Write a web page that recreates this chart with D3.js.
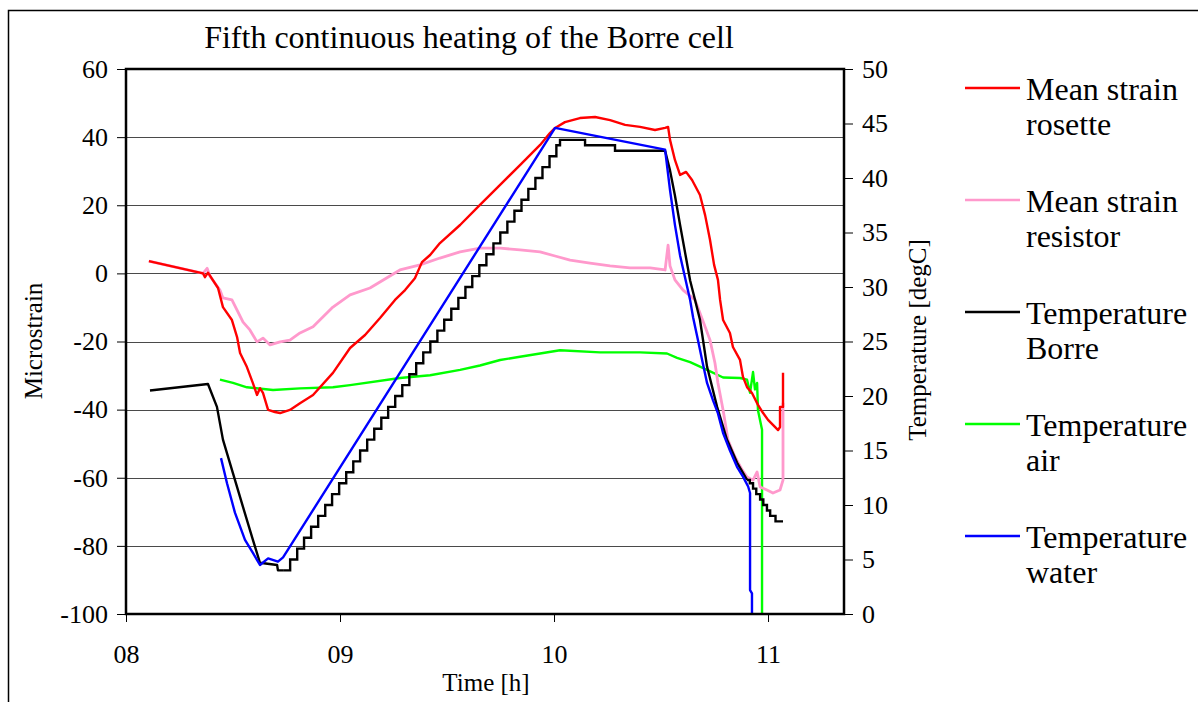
<!DOCTYPE html>
<html>
<head>
<meta charset="utf-8">
<script src="https://cdn.jsdelivr.net/npm/d3@7/dist/d3.min.js"></script>
<style>
  html, body { margin: 0; padding: 0; background: #fff; }
  svg { display: block; }
  text { font-family: "Liberation Serif", "Times New Roman", serif; fill: #000; }
</style>
</head>
<body>
<svg id="chart" width="1198" height="702"></svg>
<script>
// ---------------- data ----------------
const chartTitle = "Fifth continuous heating of the Borre cell";
const xTitle = "Time [h]";
const yLeftTitle = "Microstrain";
const yRightTitle = "Temperature [degC]";

const timeTicks = [8, 9, 10, 11];
const timeTickLabels = ["08", "09", "10", "11"];
const strainTicks = [-100, -80, -60, -40, -20, 0, 20, 40, 60];
const tempTicks = [0, 5, 10, 15, 20, 25, 30, 35, 40, 45, 50];

const seriesNames = ["Mean strain rosette", "Mean strain resistor", "Temperature Borre", "Temperature air", "Temperature water"];
const legendLines = [["Mean strain", "rosette"], ["Mean strain", "resistor"], ["Temperature", "Borre"], ["Temperature", "air"], ["Temperature", "water"]];

// [time h, microstrain]
const strainRosette = [
  [8.107, 3.6], [8.360, 0.0], [8.369, -1.1], [8.383, 0.2], [8.430, -4.3], [8.453, -9.9], [8.495, -13.7],
  [8.519, -18.7], [8.533, -23.4], [8.565, -27.5], [8.593, -32.2], [8.612, -35.7], [8.626, -33.7],
  [8.640, -35.1], [8.664, -40.1], [8.696, -40.7], [8.720, -41.0], [8.766, -40.1], [8.813, -38.1],
  [8.874, -35.7], [8.967, -29.2], [9.047, -21.9], [9.117, -18.1], [9.187, -13.1], [9.257, -7.8],
  [9.304, -4.9], [9.350, -1.4], [9.383, 3.3], [9.421, 5.4], [9.467, 8.9], [9.561, 14.2], [9.654, 20.1],
  [9.748, 26.0], [9.841, 31.8], [9.935, 37.7], [9.981, 41.2], [10.005, 42.7], [10.051, 44.4],
  [10.121, 45.6], [10.192, 45.9], [10.262, 45.0], [10.332, 43.6], [10.402, 43.0], [10.472, 42.1],
  [10.519, 42.7], [10.533, 43.0], [10.542, 39.2], [10.565, 33.3], [10.589, 28.9], [10.617, 29.8],
  [10.645, 27.4], [10.682, 23.0], [10.706, 17.1], [10.729, 9.8], [10.748, 2.5], [10.766, -1.9],
  [10.776, -7.8], [10.790, -13.7], [10.822, -17.5], [10.836, -21.6], [10.869, -25.4], [10.883, -30.4],
  [10.902, -33.4], [10.925, -35.1], [10.953, -38.6], [10.977, -41.0], [11.000, -43.0], [11.023, -44.5],
  [11.047, -46.0], [11.056, -45.1], [11.056, -39.2], [11.070, -39.2], [11.070, -29.2]
];

const strainResistor = [
  [8.107, 3.6], [8.360, 0.0], [8.379, 1.5], [8.393, -0.9], [8.407, -2.1], [8.439, -4.9], [8.453, -7.2],
  [8.495, -7.8], [8.519, -10.8], [8.547, -14.3], [8.579, -16.6], [8.612, -20.1], [8.640, -19.0],
  [8.673, -21.0], [8.720, -20.1], [8.766, -19.6], [8.813, -17.5], [8.874, -15.7], [8.967, -9.9],
  [9.047, -6.3], [9.140, -4.3], [9.280, 1.0], [9.374, 2.5], [9.467, 4.5], [9.561, 6.3], [9.654, 7.4],
  [9.748, 7.4], [9.841, 6.9], [9.935, 6.3], [10.005, 5.1], [10.075, 3.9], [10.168, 3.0], [10.262, 2.2],
  [10.355, 1.6], [10.449, 1.6], [10.519, 1.0], [10.533, 8.3], [10.542, 2.2], [10.565, -1.9],
  [10.603, -4.9], [10.659, -7.8], [10.706, -15.7], [10.729, -19.6], [10.752, -26.3], [10.766, -32.2],
  [10.790, -40.1], [10.813, -48.9], [10.846, -53.9], [10.879, -57.7], [10.902, -59.8], [10.930, -60.7],
  [10.949, -58.3], [10.963, -62.7], [10.995, -63.6], [11.023, -64.5], [11.056, -63.6], [11.070, -60.7],
  [11.070, -38.0]
];

// [time h, degC] -- Borre cell temperature (logged in 0.5 / 1 degC steps while heating)
const borreCooling = [
  [8.112, 20.5], [8.383, 21.1], [8.425, 19.0], [8.453, 16.0], [8.500, 12.9], [8.547, 9.8],
  [8.593, 6.8], [8.626, 4.7], [8.706, 4.5], [8.710, 4.0], [8.734, 4.0]
];
const borreHeating = [
  [8.734, 4], [8.767, 5], [8.800, 6], [8.832, 7], [8.865, 8], [8.898, 9], [8.931, 10], [8.963, 11],
  [8.996, 12], [9.029, 13], [9.062, 14], [9.094, 15], [9.127, 16], [9.160, 17], [9.193, 18], [9.225, 19],
  [9.258, 20], [9.291, 21], [9.324, 22], [9.356, 23], [9.389, 24], [9.422, 25], [9.455, 26], [9.487, 27],
  [9.520, 28], [9.553, 29], [9.586, 30], [9.618, 31], [9.651, 32], [9.684, 33], [9.717, 34], [9.749, 35],
  [9.782, 36], [9.815, 37], [9.848, 38], [9.880, 39], [9.913, 40], [9.946, 41], [9.979, 42], [10.011, 43],
  [10.028, 43.5], [10.145, 43.0], [10.285, 42.5], [10.519, 42.5]
];
const borreFalling = [
  [10.519, 42.5], [10.542, 40.7], [10.565, 38.4], [10.589, 35.7], [10.636, 30.6], [10.659, 28.8],
  [10.682, 27.0], [10.715, 22.7], [10.762, 19.0], [10.808, 16.0], [10.855, 13.9], [10.902, 12.3]
];
const borreTail = [
  [10.902, 12.3], [10.915, 12.0], [10.930, 11.5], [10.945, 11.0], [10.963, 10.5], [10.978, 10.0],
  [10.995, 9.5], [11.010, 9.0], [11.035, 8.5], [11.070, 8.5]
];

const tempAir = [
  [8.439, 21.5], [8.500, 21.2], [8.565, 20.8], [8.687, 20.55], [8.813, 20.7], [8.967, 20.8],
  [9.047, 21.0], [9.280, 21.65], [9.421, 21.9], [9.561, 22.4], [9.654, 22.8], [9.748, 23.3],
  [9.841, 23.6], [9.935, 23.9], [10.028, 24.2], [10.215, 24.0], [10.402, 24.0], [10.528, 23.9],
  [10.575, 23.5], [10.636, 23.1], [10.715, 22.4], [10.790, 21.7], [10.869, 21.65], [10.902, 21.5],
  [10.916, 20.3], [10.930, 22.2], [10.939, 20.6], [10.949, 21.2], [10.953, 18.7], [10.972, 16.9],
  [10.972, 0.0]
];

const tempWater = [
  [8.444, 14.3], [8.472, 12.0], [8.509, 9.3], [8.556, 6.8], [8.593, 5.6], [8.626, 4.5], [8.664, 5.1],
  [8.710, 4.8], [8.734, 5.2], [10.005, 44.6], [10.519, 42.6], [10.542, 38.9], [10.565, 35.7],
  [10.589, 32.9], [10.636, 28.8], [10.650, 27.2], [10.673, 25.1], [10.692, 23.3], [10.715, 21.2],
  [10.743, 19.6], [10.766, 18.4], [10.790, 16.6], [10.822, 15.0], [10.855, 13.5], [10.883, 12.6],
  [10.907, 11.7], [10.916, 11.1], [10.916, 2.2], [10.925, 1.9], [10.925, 0.0]
];

const seriesColors = ["#ff0000", "#ff99cc", "#000000", "#00ff00", "#0000ff"];

// ---------------- layout ----------------
const FONT = '"Liberation Serif", "Times New Roman", serif';
const svg = d3.select("#chart");
const plot = { left: 126, right: 844, top: 69, bottom: 614 };

const x = d3.scaleLinear().domain([8, 11.355]).range([plot.left, plot.right]);
const yL = d3.scaleLinear().domain([-100, 60]).range([plot.bottom, plot.top]);
const yR = d3.scaleLinear().domain([0, 50]).range([plot.bottom, plot.top]);

// outer border
svg.append("rect").attr("x", 8.5).attr("y", 10.5).attr("width", 1200).attr("height", 720)
  .attr("fill", "none").attr("stroke", "#000").attr("stroke-width", 1.5);

// title
svg.append("text").attr("x", 469).attr("y", 48).attr("text-anchor", "middle")
  .attr("font-family", FONT).style("font-size", "32px").text(chartTitle);

// gridlines
svg.append("g").selectAll("line")
  .data(strainTicks.filter(d => d > -100 && d < 60))
  .join("line")
  .attr("x1", plot.left).attr("x2", plot.right)
  .attr("y1", d => Math.round(yL(d)) + 0.5).attr("y2", d => Math.round(yL(d)) + 0.5)
  .attr("stroke", "#4a4a4a").attr("stroke-width", 1);

// axes
const axL = svg.append("g").attr("transform", `translate(${plot.left},0)`)
  .call(d3.axisLeft(yL).tickValues(strainTicks).tickFormat(d => String(d))
    .tickSize(9).tickSizeOuter(0).tickPadding(9));
const axR = svg.append("g").attr("transform", `translate(${plot.right},0)`)
  .call(d3.axisRight(yR).tickValues(tempTicks).tickFormat(d => String(d))
    .tickSize(9).tickSizeOuter(0).tickPadding(9));
const axB = svg.append("g").attr("transform", `translate(0,${plot.bottom})`)
  .call(d3.axisBottom(x).tickValues(timeTicks).tickFormat((d, i) => timeTickLabels[i])
    .tickSize(8).tickSizeOuter(0).tickPadding(23));

[axL, axR, axB].forEach(g => {
  g.attr("font-family", FONT).attr("font-size", 26);
  g.select(".domain").remove();
  g.selectAll(".tick line").attr("stroke", "#000").attr("stroke-width", 1);
  g.selectAll(".tick text").attr("font-family", FONT).style("font-family", FONT)
    .style("font-size", "26px").attr("fill", "#000");
});

// axis titles
svg.append("text").attr("x", 486).attr("y", 691).attr("text-anchor", "middle")
  .attr("font-family", FONT).style("font-size", "25px").text(xTitle);
svg.append("text").attr("transform", "translate(42,341) rotate(-90)").attr("text-anchor", "middle")
  .attr("font-family", FONT).style("font-size", "25px").text(yLeftTitle);
svg.append("text").attr("transform", "translate(926,340) rotate(-90)").attr("text-anchor", "middle")
  .attr("font-family", FONT).style("font-size", "25px").text(yRightTitle);

// series
const lineL = d3.line().x(d => x(d[0])).y(d => yL(d[1]));
const lineR = d3.line().x(d => x(d[0])).y(d => yR(d[1]));
const stepR = d3.line().x(d => x(d[0])).y(d => yR(d[1])).curve(d3.curveStepAfter);

const gSeries = svg.append("g").attr("fill", "none").attr("stroke-width", 2.4)
  .attr("stroke-linejoin", "round");

gSeries.append("path").datum(tempAir).attr("d", lineR).attr("stroke", seriesColors[3]);
gSeries.append("path").datum(strainResistor).attr("d", lineL).attr("stroke", seriesColors[1]).attr("stroke-width", 2.8);
gSeries.append("path").datum(strainRosette).attr("d", lineL).attr("stroke", seriesColors[0]);
gSeries.append("path").datum(borreCooling).attr("d", lineR).attr("stroke", seriesColors[2]);
gSeries.append("path").datum(borreHeating).attr("d", stepR).attr("stroke", seriesColors[2]).attr("stroke-linejoin", "miter");
gSeries.append("path").datum(borreFalling).attr("d", lineR).attr("stroke", seriesColors[2]);
gSeries.append("path").datum(borreTail).attr("d", stepR).attr("stroke", seriesColors[2]).attr("stroke-linejoin", "miter");
gSeries.append("path").datum(tempWater).attr("d", lineR).attr("stroke", seriesColors[4]);

// plot frame
svg.append("rect").attr("x", plot.left).attr("y", plot.top)
  .attr("width", plot.right - plot.left).attr("height", plot.bottom - plot.top)
  .attr("fill", "none").attr("stroke", "#000").attr("stroke-width", 2.5);

// legend
const leg = svg.append("g");
legendLines.forEach((lines, i) => {
  const y0 = 88 + i * 112;
  leg.append("line").attr("x1", 965).attr("x2", 1020).attr("y1", y0).attr("y2", y0)
    .attr("stroke", seriesColors[i]).attr("stroke-width", 2.4);
  const t = leg.append("text").attr("x", 1026).attr("y", y0 + 12)
    .attr("font-family", FONT).style("font-size", "32px");
  t.append("tspan").attr("x", 1026).text(lines[0]);
  t.append("tspan").attr("x", 1026).attr("dy", 35).text(lines[1]);
});
</script>
</body>
</html>
